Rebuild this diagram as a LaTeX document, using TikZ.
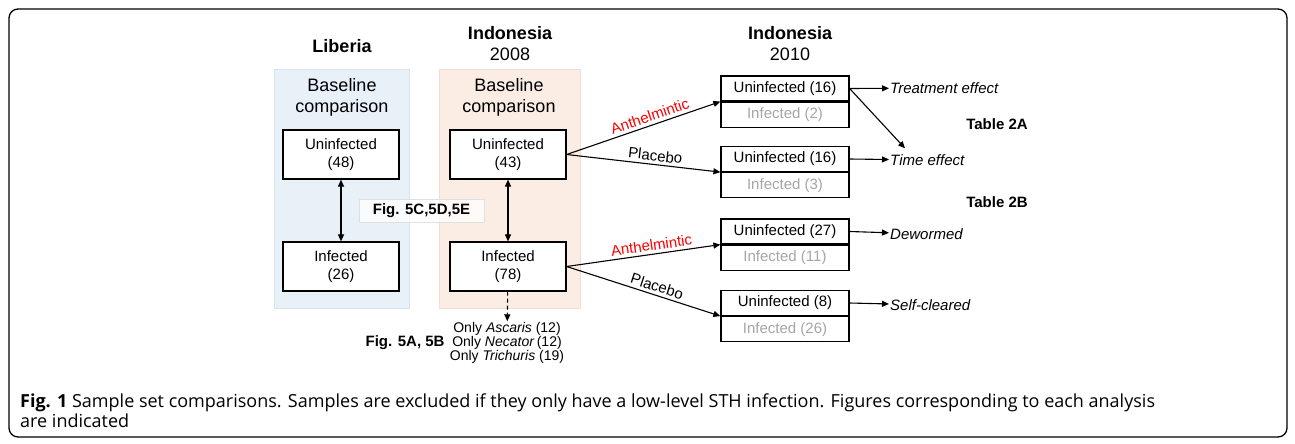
\documentclass[tikz,border=0pt]{standalone}
\usepackage{fontspec}
\setmainfont{Liberation Sans}
\newfontfamily\capfont{Open Sans}
\usetikzlibrary{positioning}
\usetikzlibrary{arrows.meta}

\definecolor{libblue}{HTML}{E8F0F8}
\definecolor{libedge}{HTML}{D8E3EF}
\definecolor{indpeach}{HTML}{FBEDE4}
\definecolor{indedge}{HTML}{F0DED3}
\definecolor{faded}{HTML}{A6A6A6}

\tikzset{
  grp/.style={draw,line width=0.8pt,minimum width=135pt,minimum height=239pt,inner sep=0pt},
  hdr/.style={align=center,font=\fontsize{18}{21}\selectfont},
  grphead/.style={align=center,font=\fontsize{18}{21}\selectfont},
  box/.style={draw,line width=1.2pt,fill=white,minimum width=116pt,minimum height=49pt,inner sep=0pt,align=center,font=\fontsize{15}{18}\selectfont},
  outbox/.style={draw,line width=1.2pt,fill=white,minimum width=128pt,minimum height=25pt,inner sep=0pt,font=\fontsize{15}{18}\selectfont},
  outfaded/.style={outbox,text=faded},
  effect/.style={anchor=west,inner sep=1pt,font=\fontsize{15}{18}\selectfont\itshape},
  tbl/.style={font=\fontsize{15}{18}\selectfont\bfseries},
  drug/.style={sloped,above,inner sep=3pt,font=\fontsize{15}{18}\selectfont},
  link/.style={->,line width=1.1pt}
}

\begin{document}
\begin{tikzpicture}[x=1pt,y=-1pt,>={Triangle[length=7pt,width=6pt]}]
  \useasboundingbox (0,0) rectangle (1295,444);
  \node[draw,line width=1.3pt,rounded corners=9pt,minimum width=1278pt,minimum height=428pt] (frame) at (648,223) {};

  %liberia
  \node[hdr] (libt) at (342,46) {\bfseries Liberia};
  \node[grp,fill=libblue,draw=libedge] (lib) at (341.5,188.5) {};
  \node[grphead] (libh) at (342,97) {Baseline\\comparison};
  \node[box] (u48) at (341,154.5) {Uninfected\\(48)};
  \node[box] (i26) at (341,266.5) {Infected\\(26)};
  \draw[<->,line width=1.1pt] (u48) -- (i26);

  %indonesia 2008
  \node[hdr] (indt) at (510,44) {\bfseries Indonesia\\2008};
  \node[grp,minimum width=141pt,fill=indpeach,draw=indedge] (ind) at (509.5,188.5) {};
  \node[grphead] (indh) at (509,97) {Baseline\\comparison};
  \node[box] (u43) at (508,154.5) {Uninfected\\(43)};
  \node[box] (i78) at (508,266.5) {Infected\\(78)};
  \draw[<->,line width=1.1pt] (u43) -- (i78);

  \node[draw=black!12,fill=white,fill opacity=0.75,text opacity=1,minimum width=125pt,minimum height=23pt,font=\fontsize{15}{18}\selectfont\bfseries] (fig5c) at (421.5,210.5) {Fig. 5C,5D,5E};

  \node[align=center,inner sep=1pt,font=\fontsize{14}{14}\selectfont] (only) at (507,343) {Only \textit{Ascaris} (12)\\Only \textit{Necator}\,(12)\\Only \textit{Trichuris} (19)};
  \node[left=3pt of only,inner sep=1pt,font=\fontsize{15}{16}\selectfont\bfseries] (fig5a) {Fig. 5A, 5B};
  \draw[link,dash pattern=on 4pt off 3pt] (i78) -- (only);

  %indonesia 2010
  \node[hdr] (ind2t) at (790,44) {\bfseries Indonesia\\2010};
  \node[outbox] (t1) at (785,88.5) {Uninfected (16)};
  \node[outfaded,below=0pt of t1] (t1i) {Infected (2)};
  \node[outbox] (t2) at (785,159) {Uninfected (16)};
  \node[outfaded,below=0pt of t2] (t2i) {Infected (3)};
  \node[outbox] (t3) at (785,231.5) {Uninfected (27)};
  \node[outfaded,below=0pt of t3] (t3i) {Infected (11)};
  \node[outbox] (t4) at (785,303) {Uninfected (8)};
  \node[outfaded,below=0pt of t4] (t4i) {Infected (26)};

  \draw[link] (u43.east) -- node[drug,pos=0.56,text=red] {Anthelmintic} (t1.south west);
  \draw[link] (u43.east) -- node[drug,pos=0.57] {Placebo} (t2.south west);
  \draw[link] (i78.east) -- node[drug,pos=0.56,text=red] {Anthelmintic} (t3.south west);
  \draw[link] (i78.east) -- node[drug,pos=0.57] {Placebo} (t4.south west);

  %outcomes
  \node[effect] (treat) at (889,88) {Treatment effect};
  \node[effect] (time) at (889,160) {Time effect};
  \node[effect] (dew) at (889,234) {Dewormed};
  \node[effect] (self) at (889,305) {Self-cleared};
  \draw[link] (t1.east) -- (treat);
  \draw[link] (t1.east) -- ([xshift=16pt,yshift=5pt]time.north west);
  \draw[link] (t2.east) -- (time);
  \draw[link] (t3.east) -- (dew);
  \draw[link] (t4.east) -- (self);
  \node[tbl] (tab2a) at (997,124) {Table 2A};
  \node[tbl] (tab2b) at (997,202) {Table 2B};

  %caption
  \node[anchor=north west,align=left,inner sep=0pt,font=\capfont\fontsize{18}{20}\selectfont] (cap) at (20,394) {{\bfseries Fig. 1} Sample set comparisons. Samples are excluded if they only have a low-level STH infection. Figures corresponding to each analysis\\are indicated};
\end{tikzpicture}
\end{document}
